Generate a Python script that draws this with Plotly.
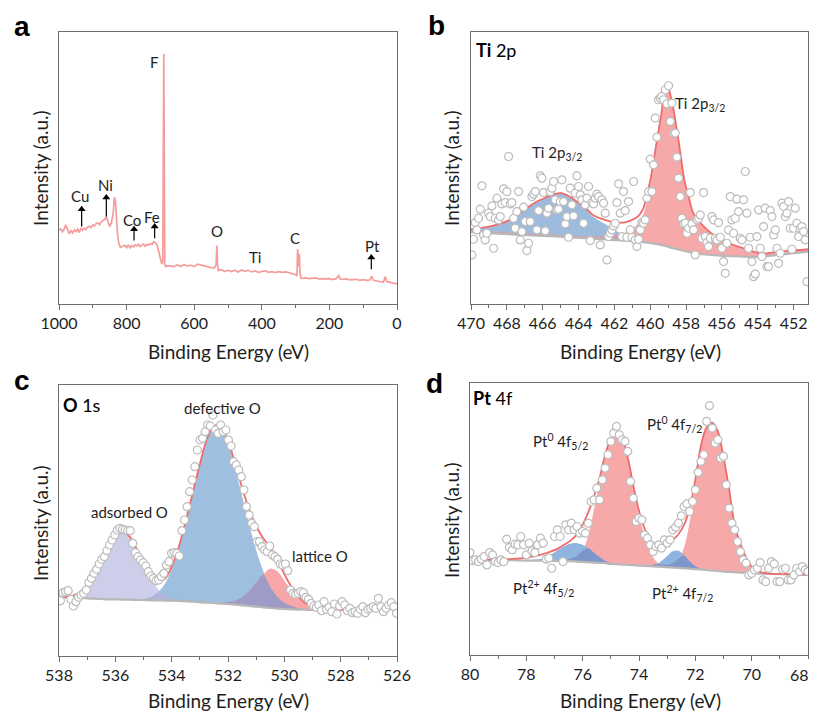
import numpy as np
import plotly.graph_objects as go

# ---------------- Panel a : survey spectrum ----------------
a_energy = [1000,995,990,985,980,975,970,965,960,955,950,945,940,935,930,925,920,915,910,905,
            900,895,890,885,880,875,870,865,860,855,850,845,840,836,833,830,826,822,818,812,
            805,800,795,790,785,780,775,770,765,760,755,750,745,740,735,730,725,720,715,710,
            705,700,696,693,690,687,684,680,670,660,650,640,630,620,610,600,590,580,570,560,
            550,540,535,533,531,528,520,510,500,490,480,470,460,450,440,430,420,410,400,390,
            380,370,360,350,340,330,320,310,300,296,294,291,289,287,284,280,270,260,250,240,
            230,220,210,200,190,180,172,168,160,150,140,130,120,110,100,90,80,75,70,60,
            50,40,35,30,20,10,0]
a_counts = [222,225,216,224,237,226,210,220,213,222,217,224,214,228,221,227,223,231,233,229,
            237,234,241,243,238,246,249,253,262,249,232,243,270,320,308,258,200,178,170,173,
            176,169,178,167,175,171,177,174,179,172,177,180,173,179,176,181,178,186,184,177,
            158,135,120,126,750,118,112,115,114,112,117,113,118,114,116,112,119,116,113,112,
            109,108,118,175,118,100,103,98,101,97,101,96,102,98,101,96,99,95,98,100,
            95,97,94,97,95,96,94,92,88,84,165,112,150,92,78,77,78,76,77,78,
            75,76,75,76,73,76,85,75,74,75,72,73,74,71,73,71,72,84,71,69,
            66,65,82,67,65,63,60]
a_labels = ["Cu", "Ni", "Co", "Fe", "F", "O", "Ti", "C", "Pt"]
a_label_e = [939, 862, 783, 724, 719, 533, 421, 303, 73]
a_label_i = [324, 357, 252, 260, 724, 220, 142, 199, 175]
a_arrow_e = [933, 860, 778, 717, 76]
a_arrow_tail = [232, 262, 190, 197, 104]
a_arrow_head = [292, 327, 232, 240, 147]

# ---------------- Panel b : Ti 2p ----------------
b_counts = [147,194,244,222,257,284,354,207,192,212,
            272,262,294,167,257,317,252,262,300,345,
            304,337,442,300,304,257,227,277,337,192,
            217,290,247,160,182,247,322,329,337,222,
            280,384,377,334,219,272,287,337,347,367,
            312,282,284,307,372,307,240,262,200,347,
            297,264,332,384,352,327,312,242,297,317,
            352,190,304,300,317,329,322,177,312,302,
            272,132,202,212,222,234,242,304,360,272,
            202,337,280,200,307,222,200,367,192,172,
            194,222,244,242,252,317,337,434,337,417,
            557,500,612,617,622,612,642,600,654,547,
            602,512,512,440,377,322,257,240,242,212,
            227,334,240,222,147,252,257,267,197,334,
            202,184,172,197,262,252,197,192,244,200,
            167,127,92,182,222,322,252,212,257,314,
            277,197,192,312,397,272,167,200,127,82,
            90,202,282,167,142,232,287,112,112,280,
            262,207,222,167,122,152,302,292,262,272,
            307,227,164,227,287,242,202,227,232,217,
            192,67]
b_fit_e = [470,469,468.2,467.5,466.9,466.4,465.9,465.5,465.0,464.5,
           464.1,463.6,463.2,462.7,462.2,461.8,461.5,461.1,460.7,460.4,
           460.2,460.0,459.8,459.6,459.4,459.2,459.0,458.85,458.7,458.55,
           458.4,458.25,458.1,457.85,457.6,457.1,456.6,456.1,455.7,455.2,
           454.8,454.3,453.9,453.4,452.9,452.0,451.2]
b_bg = [215,212,210,208,206,205,204,203,202,200,
        199,197,196,194,192,191,190,189,187,185,
        184,183,181,179,177,175,172,169,167,165,
        163,161,159,156,153,149,147,145,144,143,
        142,141,141,144,147,152,157]
b_blue = [222,230,242,260,285,303,315,325,330,320,
          305,284,262,245,230,216,207,198,192,188,
          186,184,182,180,177]
b_red = [220,217,215,213,211,210,209,208,207,205,
         204,203,202,202,204,208,212,222,240,268,
         305,355,420,490,552,625,642,615,578,528,
         478,421,368,317,270,235,210,193,182,172,
         165,156,150,151,156,159,163]
b_env = [224,232,244,262,287,305,317,327,332,322,
         307,287,267,255,247,244,244,250,262,285,
         322,370,432,500,562,632,647,620,582,532,
         482,425,372,320,272,237,212,195,184,174,
         167,158,152,152,157,160,164]

# ---------------- Panel c : O 1s ----------------
c_counts = [166,190,193,196,170,150,163,176,183,188,
            198,220,233,248,260,276,290,298,316,333,
            348,363,378,383,380,378,376,376,338,310,
            298,288,280,270,253,240,233,226,228,238,
            248,273,283,308,310,308,300,376,408,448,
            493,528,568,618,648,653,673,693,690,723,
            678,668,693,673,678,648,630,583,573,558,
            538,498,448,423,398,388,343,343,328,318,
            313,330,303,298,290,276,273,276,256,198,
            188,185,188,193,190,176,170,158,150,146,
            153,136,163,140,146,133,156,126,150,163,
            153,136,143,130,133,128,140,148,130,140,
            143,148,143,173,148,133,143,153,160,148,
            128]
c_fit_e = [538,537.5,537,536.75,536.5,536.25,536,535.75,
           535.5,535.25,535,534.75,534.5,534.25,534,533.75,
           533.5,533.25,533,532.75,532.5,532.25,532,531.75,
           531.5,531.25,531,530.75,530.5,530.25,530,529.75,
           529.5,529.25,529,528.5,528,527,526]
c_bg = [176,175,173,172,171,170,170,169,
        169,168,168,167,167,166,166,165,
        164,163,161,160,159,157,156,154,
        152,150,148,146,144,142,141,140,
        139,139,138,138,138,140,143]
c_ads = [177,181,208,238,279,323,359,372,
         358,321,276,233,202,182,172,167,
         164,163,161,160,159,157,156,154,
         152,150,148,146,144,142,141,140,
         139,139,138,138,138,140,143]
c_def = [176,175,173,172,171,170,170,169,
         169,169,171,176,190,215,262,325,
         405,490,575,650,690,686,640,565,
         480,395,318,255,208,178,160,150,
         143,140,139,138,138,140,143]
c_lat = [176,175,173,172,171,170,170,169,
         169,168,168,167,167,166,166,165,
         164,163,161,160,159,160,162,166,
         177,195,220,244,262,254,226,198,
         174,157,146,140,138,140,143]
c_env = [177,181,208,238,279,323,359,372,
         359,323,281,242,225,231,268,327,
         405,490,575,650,690,689,646,577,
         505,440,390,353,326,290,245,208,
         178,158,147,140,138,140,143]

# ---------------- Panel d : Pt 4f ----------------
d_counts = [307,283,285,280,287,295,270,307,300,280,
            277,285,280,347,322,315,332,330,355,330,
            300,335,312,307,330,350,335,287,290,260,
            355,375,355,280,390,375,395,375,385,365,
            370,365,395,460,465,500,465,525,560,600,
            640,665,685,660,645,640,610,520,470,400,
            410,405,360,350,330,310,325,330,320,345,
            335,345,375,383,395,417,445,453,430,460,
            495,547,580,600,700,747,680,635,645,590,
            595,510,440,395,375,340,310,285,275,240,
            245,255,260,277,225,220,260,280,273,220,
            220,257,260,225,225,240,260,250,265,255,
            250]
d_fit_e = [80,79,78.5,78,77.5,77.2,76.9,76.6,76.4,76.2,
           76.0,75.8,75.6,75.4,75.2,75.0,74.8,74.6,74.4,74.2,
           74.0,73.8,73.6,73.4,73.2,73.0,72.8,72.6,72.4,72.2,
           72.0,71.8,71.6,71.4,71.2,71.0,70.8,70.6,70.4,70.2,
           70.0,69.7,69.4,69.0,68.5,68.0]
d_bg = [285,284,284,283,283,282,282,281,281,280,
        279,278,277,276,275,273,272,271,270,269,
        268,267,266,265,264,263,262,261,260,259,
        257,256,255,253,252,250,249,248,247,246,
        245,244,243,242,241,240]
d_p52 = [285,284,284,283,283,282,283,285,289,297,
         312,360,435,515,590,642,670,648,588,503,
         420,355,308,282,271,266,263,262,260,259,
         257,256,255,253,252,250,249,248,247,246,
         245,244,243,242,241,240]
d_b52 = [285,284,284,284,288,297,314,328,334,335,
         330,320,306,293,282,275,272,271,270,269,
         268,267,266,265,264,263,262,261,260,259,
         257,256,255,253,252,250,249,248,247,246,
         245,244,243,242,241,240]
d_p72 = [285,284,284,283,283,282,282,281,281,280,
         279,278,277,276,275,273,272,271,270,269,
         268,267,266,266,267,270,276,288,322,400,
         510,625,680,695,668,590,495,385,330,290,
         263,248,244,242,241,240]
d_b72 = [285,284,284,283,283,282,282,281,281,280,
         279,278,277,276,275,273,272,271,270,269,
         268,267,268,272,282,297,311,312,298,280,
         266,258,255,253,252,250,249,248,247,246,
         245,244,243,242,241,240]
d_env = [286,286,288,292,300,308,318,333,345,362,
         390,428,475,530,600,648,672,650,592,508,
         432,378,342,325,322,330,345,362,390,440,
         525,628,682,696,670,592,497,388,333,293,
         265,249,244,243,242,241]
d_tickvals = [80, 78, 76, 74, 72, 70]
d_last_tick = "68"

# ---------------- styles ----------------
FONT = "Lato"
AX = "#6e6e6e"
TXT = "#1e1e1e"
ENV = "#f06a6a"
BGL = "#b8b8b8"
MARK = dict(size=8, color="white", line=dict(color="#bcbcbc", width=1.2))

fig = go.Figure()


def add_fill(xs, base, top, color, xa, ya):
    fig.add_trace(go.Scatter(x=xs, y=base, mode="lines", line=dict(width=0, shape="spline"),
                             xaxis=xa, yaxis=ya, showlegend=False, hoverinfo="skip"))
    fig.add_trace(go.Scatter(x=xs, y=top, mode="lines", line=dict(width=0, shape="spline"),
                             fill="tonexty", fillcolor=color, xaxis=xa, yaxis=ya,
                             showlegend=False, hoverinfo="skip"))


def add_line(xs, ys, color, width, xa, ya, shape="spline"):
    fig.add_trace(go.Scatter(x=xs, y=ys, mode="lines", line=dict(color=color, width=width, shape=shape),
                             xaxis=xa, yaxis=ya, showlegend=False, hoverinfo="skip"))


def add_points(xs, ys, xa, ya):
    fig.add_trace(go.Scatter(x=xs, y=ys, mode="markers", marker=MARK, xaxis=xa, yaxis=ya,
                             showlegend=False, hoverinfo="skip"))


# panel a
add_line(a_energy, a_counts, "#f59c9c", 1.7, "x", "y", shape="linear")
for e, t0, h in zip(a_arrow_e, a_arrow_tail, a_arrow_head):
    fig.add_trace(go.Scatter(x=[e, e], y=[t0, h - 12], mode="lines",
                             line=dict(color="black", width=1.2), xaxis="x", yaxis="y",
                             showlegend=False, hoverinfo="skip"))
    fig.add_trace(go.Scatter(x=[e], y=[h - 8], mode="markers",
                             marker=dict(symbol="triangle-up", size=7, color="black"),
                             xaxis="x", yaxis="y", showlegend=False, hoverinfo="skip"))

# panel b
nb = len(b_blue)
add_fill(b_fit_e[:nb], b_bg[:nb], b_blue, "#9dbcdd", "x2", "y2")
add_fill(b_fit_e, b_bg, b_red, "#f7a9a9", "x2", "y2")
add_fill(b_fit_e[:nb], b_bg[:nb], list(np.minimum(b_blue, b_red[:nb])), "#d49bb0", "x2", "y2")
add_line(b_fit_e, b_bg, BGL, 2.2, "x2", "y2")
add_line(b_fit_e, b_env, ENV, 1.8, "x2", "y2")
b_energy = np.linspace(469.95, 451.26, len(b_counts))
add_points(b_energy, b_counts, "x2", "y2")

# panel c
add_fill(c_fit_e, c_bg, c_ads, "#cdcee9", "x3", "y3")
add_fill(c_fit_e, c_bg, c_def, "#9fbfe0", "x3", "y3")
add_fill(c_fit_e, c_bg, c_lat, "#f7a7a7", "x3", "y3")
add_fill(c_fit_e, c_bg, list(np.minimum(c_ads, c_def)), "#b2b4dc", "x3", "y3")
add_fill(c_fit_e, c_bg, list(np.minimum(c_def, c_lat)), "#9e9cc6", "x3", "y3")
add_line(c_fit_e, c_bg, BGL, 2.2, "x3", "y3")
add_line(c_fit_e, c_env, ENV, 1.8, "x3", "y3")
c_energy = np.linspace(537.95, 526.02, len(c_counts))
add_points(c_energy, c_counts, "x3", "y3")

# panel d
d_pink = list(np.maximum(d_p52, d_p72))
d_blue = list(np.maximum(d_b52, d_b72))
add_fill(d_fit_e, d_bg, d_pink, "#f7a9a9", "x4", "y4")
add_fill(d_fit_e, d_bg, d_blue, "#8fb4e0", "x4", "y4")
add_fill(d_fit_e, d_bg, list(np.minimum(d_pink, d_blue)), "#7d95c9", "x4", "y4")
add_line(d_fit_e, d_bg, BGL, 2.2, "x4", "y4")
add_line(d_fit_e, d_env, ENV, 1.8, "x4", "y4")
d_energy = np.round(np.linspace(80, 68, len(d_counts)), 2)
add_points(d_energy, d_counts, "x4", "y4")


# ---------------- axes ----------------
def xaxis(domain, rng, anchor, dtick, tickvals=None):
    d = dict(domain=domain, range=rng, anchor=anchor, automargin=False,
             showline=True, linecolor=AX, linewidth=1,
             mirror=True, ticks="outside", ticklen=5, tickwidth=1, tickcolor=AX,
             tick0=0, dtick=dtick,
             minor=dict(dtick=dtick / 2, ticks="outside", ticklen=3, tickcolor=AX),
             tickfont=dict(family=FONT, size=16, color=TXT),
             showgrid=False, zeroline=False)
    if tickvals is not None:
        d["tickmode"] = "array"
        d["tickvals"] = tickvals
        d["minor"] = dict(tickmode="linear", tick0=0, dtick=dtick / 2, ticks="outside",
                          ticklen=3, tickcolor=AX)
    return d


def yaxis(domain, top, anchor):
    return dict(domain=domain, range=[0, top], anchor=anchor, automargin=False,
                showline=True, linecolor=AX,
                linewidth=1, mirror=True, ticks="", showticklabels=False,
                showgrid=False, zeroline=False)


# page body adds an 8 px offset; figure is sized so that the page fills the window
OFF = 8
W, H = 819 - 2 * OFF, 722 - 2 * OFF


def px(x):
    return (x - OFF) / W


def py(y):
    return 1 - (y - OFF) / H


fig.update_layout(
    width=W, height=H, margin=dict(l=0, r=0, t=0, b=0, autoexpand=False),
    paper_bgcolor="white", plot_bgcolor="white", showlegend=False, hovermode=False,
    xaxis=xaxis([px(59), px(397)], [1000, 0], "y", 200),
    yaxis=yaxis([py(304), py(32)], 815, "x"),
    xaxis2=xaxis([px(471), px(808)], [470, 451.2], "y2", 2),
    yaxis2=yaxis([py(304), py(32)], 815, "x2"),
    xaxis3=xaxis([px(59), px(397)], [538, 526], "y3", 2),
    yaxis3=yaxis([py(656), py(385)], 813, "x3"),
    xaxis4=xaxis([px(470), px(808)], [80, 68], "y4", 2, tickvals=d_tickvals),
    yaxis4=yaxis([py(655), py(383)], 815, "x4"),
)

ann = []
# last tick label of panel d, kept inside the page
ann.append(dict(text=d_last_tick, x=1.0, y=py(674), xref="paper", yref="paper", showarrow=False,
                xanchor="right", yanchor="middle", font=dict(family=FONT, size=16, color=TXT)))
# panel letters
for t, x, y in [("a", 22, 27), ("b", 436, 25), ("c", 22, 381), ("d", 434, 383)]:
    ann.append(dict(text="<b>%s</b>" % t, x=px(x), y=py(y), xref="paper", yref="paper",
                    showarrow=False, xanchor="center", yanchor="middle",
                    font=dict(family="Liberation Sans", size=28, color="black")))
# axis titles
for x, y in [(228, 352), (640, 352), (228, 700), (640, 700)]:
    ann.append(dict(text="Binding Energy (eV)", x=px(x), y=py(y), xref="paper", yref="paper",
                    showarrow=False, xanchor="center", yanchor="middle",
                    font=dict(family=FONT, size=19, color=TXT)))
for x, y in [(40, 168), (451, 168), (40, 523), (451, 520)]:
    ann.append(dict(text="Intensity (a.u.)", x=px(x), y=py(y), xref="paper", yref="paper",
                    showarrow=False, xanchor="center", yanchor="middle", textangle=-90,
                    font=dict(family=FONT, size=19, color=TXT)))
# panel headers
for t, x, y in [("<b>Ti</b> 2p", 474, 50), ("<b>O</b> 1s", 61, 405), ("<b>Pt</b> 4f", 471, 398)]:
    ann.append(dict(text=t, x=px(x), y=py(y), xref="paper", yref="paper", showarrow=False,
                    xanchor="left", yanchor="middle", font=dict(family=FONT, size=18, color="black")))
# panel a element labels
for t, e, i in zip(a_labels, a_label_e, a_label_i):
    ann.append(dict(text=t, x=e, y=i, xref="x", yref="y", showarrow=False,
                    xanchor="center", yanchor="middle", font=dict(family=FONT, size=15, color=TXT)))
# peak labels
peak_labels = [
    ("Ti 2p<sub>3/2</sub>", 465.2, 452, "x2", "y2", "center"),
    ("Ti 2p<sub>3/2</sub>", 458.75, 600, "x2", "y2", "left"),
    ("defective O", 532.2, 745, "x3", "y3", "center"),
    ("adsorbed O", 535.5, 433, "x3", "y3", "center"),
    ("lattice O", 528.75, 301, "x3", "y3", "center"),
    ("Pt<sup>0</sup> 4f<sub>5/2</sub>", 76.8, 640, "x4", "y4", "center"),
    ("Pt<sup>0</sup> 4f<sub>7/2</sub>", 72.75, 690, "x4", "y4", "center"),
    ("Pt<sup>2+</sup> 4f<sub>5/2</sub>", 77.4, 200, "x4", "y4", "center"),
    ("Pt<sup>2+</sup> 4f<sub>7/2</sub>", 72.45, 185, "x4", "y4", "center"),
]
for t, x, y, xr, yr, xa in peak_labels:
    ann.append(dict(text=t, x=x, y=y, xref=xr, yref=yr, showarrow=False, xanchor=xa,
                    yanchor="middle", font=dict(family=FONT, size=15, color=TXT)))

fig.update_layout(annotations=ann)
fig.write_html("out.html")
